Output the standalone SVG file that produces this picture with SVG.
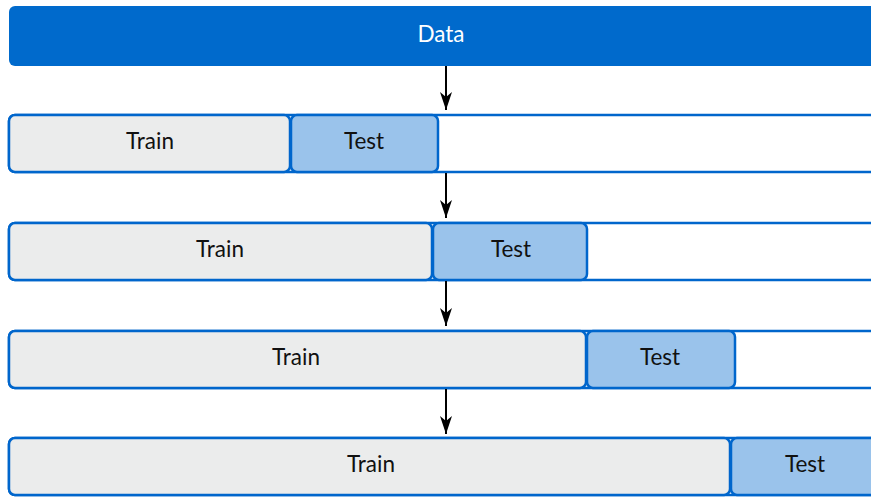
<svg xmlns="http://www.w3.org/2000/svg" width="871" height="497" viewBox="0 0 871 497">
<defs>
<style>
.row{fill:#ffffff;stroke:#0066cc;stroke-width:2.5}
.train{fill:#ebecec;stroke:#0066cc;stroke-width:2.5}
.test{fill:#9ac3eb;stroke:#0066cc;stroke-width:2.5}
.lbl{font-family:Lato,"Open Sans","Liberation Sans",sans-serif;font-size:22.5px;fill:#111111;text-anchor:middle;dominant-baseline:central}
.conn{stroke:#000000;stroke-width:2;fill:none;marker-end:url(#arr)}
</style>
<marker id="arr" viewBox="0 0 18 12" refX="18" refY="6" markerWidth="18" markerHeight="12" markerUnits="userSpaceOnUse" orient="auto">
<path d="M0,0 L18,6 L0,12 L5,6 z" fill="#000000"/>
</marker>
</defs>
<g id="data">
<rect x="9" y="6" width="870" height="60" rx="6" fill="#006acc"/>
<text class="lbl" x="441" y="33" style="fill:#ffffff">Data</text>
</g>
<g id="split1">
<rect class="row" x="9" y="115" width="875" height="57" rx="6"/>
<rect class="train" x="9" y="115" width="281" height="57" rx="6"/>
<rect class="test" x="291" y="115" width="147" height="57" rx="6"/>
<text class="lbl" x="150" y="140">Train</text>
<text class="lbl" x="364" y="140">Test</text>
</g>
<g id="split2">
<rect class="row" x="9" y="223" width="875" height="57" rx="6"/>
<rect class="train" x="9" y="223" width="423" height="57" rx="6"/>
<rect class="test" x="433" y="223" width="154" height="57" rx="6"/>
<text class="lbl" x="220" y="248">Train</text>
<text class="lbl" x="511" y="248">Test</text>
</g>
<g id="split3">
<rect class="row" x="9" y="331" width="875" height="57" rx="6"/>
<rect class="train" x="9" y="331" width="577" height="57" rx="6"/>
<rect class="test" x="587" y="331" width="148" height="57" rx="6"/>
<text class="lbl" x="296" y="356">Train</text>
<text class="lbl" x="660" y="356">Test</text>
</g>
<g id="split4">
<rect class="row" x="9" y="438" width="875" height="57" rx="6"/>
<rect class="train" x="9" y="438" width="721" height="57" rx="6"/>
<rect class="test" x="731" y="438" width="153" height="57" rx="6"/>
<text class="lbl" x="371" y="463">Train</text>
<text class="lbl" x="805" y="463">Test</text>
</g>
<g id="connectors">
<line class="conn" x1="446" y1="66" x2="446" y2="110"/>
<line class="conn" x1="446" y1="173" x2="446" y2="218"/>
<line class="conn" x1="446" y1="281" x2="446" y2="326"/>
<line class="conn" x1="446" y1="389" x2="446" y2="434"/>
</g>
</svg>
